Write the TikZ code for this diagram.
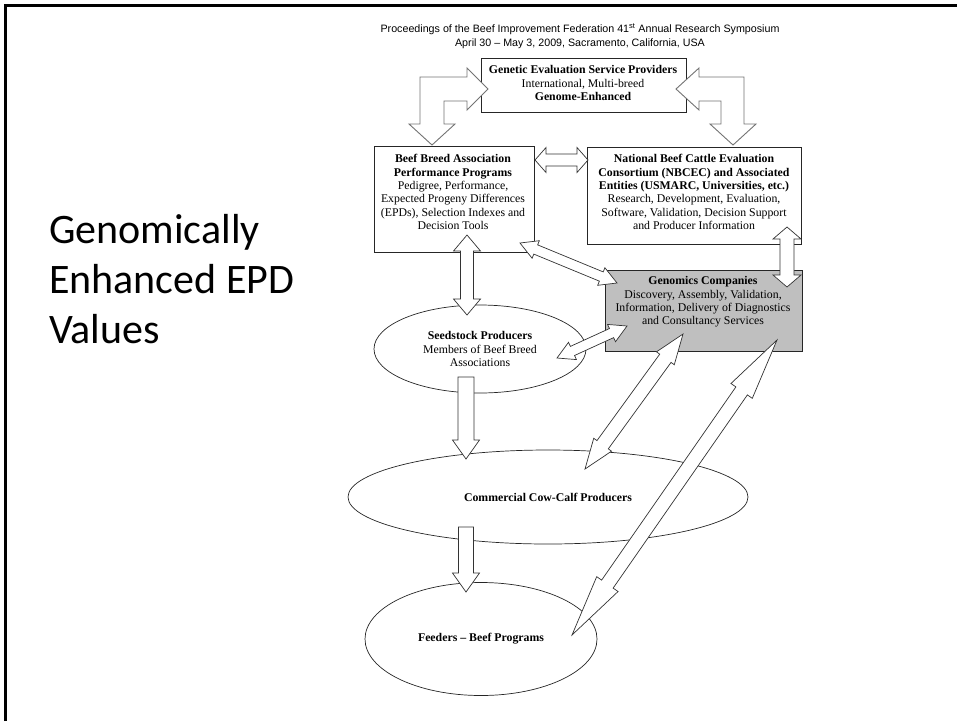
\documentclass[tikz,border=0pt]{standalone}
\usepackage{fontspec}
\setmainfont{Liberation Serif}
\newfontfamily\headfont[Ligatures=TeX]{Liberation Sans}
\newfontfamily\slidefont{Carlito}
\usetikzlibrary{shapes.geometric,calc}

% block arrows: shaft half width, head half width, head length, from, to
\newcommand{\dblarrow}[5]{%
  \draw[blockarrow] (#4) -- ($(#4)!#3!(#5)!#2!90:(#5)$) -- ($(#4)!#3!(#5)!#1!90:(#5)$)
    -- ($(#5)!#3!(#4)!#1!-90:(#4)$) -- ($(#5)!#3!(#4)!#2!-90:(#4)$) -- (#5)
    -- ($(#5)!#3!(#4)!#2!90:(#4)$) -- ($(#5)!#3!(#4)!#1!90:(#4)$)
    -- ($(#4)!#3!(#5)!#1!-90:(#5)$) -- ($(#4)!#3!(#5)!#2!-90:(#5)$) -- cycle;}
\newcommand{\sglarrow}[5]{%
  \draw[blockarrow] ($(#4)!#1!90:(#5)$) -- ($(#5)!#3!(#4)!#1!-90:(#4)$)
    -- ($(#5)!#3!(#4)!#2!-90:(#4)$) -- (#5) -- ($(#5)!#3!(#4)!#2!90:(#4)$)
    -- ($(#5)!#3!(#4)!#1!90:(#4)$) -- ($(#4)!#1!-90:(#5)$) -- cycle;}

\tikzset{
  box/.style={draw=black!85, line width=0.9pt, anchor=north west, inner sep=0pt},
  boxtext/.style={align=center, font=\fontsize{11.8}{13.4}\selectfont, inner sep=0pt},
  oval/.style={draw=black!85, line width=0.7pt, ellipse, align=center, inner sep=0pt,
    font=\fontsize{11.8}{13.4}\selectfont},
  blockarrow/.style={draw=black!80, line width=0.7pt, fill=white, line join=miter},
  bentarrow/.style={draw=black!55, line width=0.9pt, fill=white, line join=miter}
}

\begin{document}
\begin{tikzpicture}[x=1pt,y=-1pt]
	\useasboundingbox (0,0) rectangle (957,721);
	\draw[line width=3pt] (5.5,721) -- (5.5,5.5) -- (957,5.5);

	\node[anchor=base west, align=left, inner sep=0pt, font=\slidefont\fontsize{42}{50}\selectfont] (title) at (49,343) {Genomically\\Enhanced EPD\\Values};
	\node[align=center, inner sep=0pt, font=\headfont\fontsize{10.7}{14.5}\selectfont] (head) at (580,36) {Proceedings of the Beef Improvement Federation 41\textsuperscript{st} Annual Research Symposium\\April 30 – May 3, 2009, Sacramento, California, USA};

	% boxes
	\node[box, minimum width=205pt, minimum height=54pt] (gesp) at (481,58) {};
	\node[box, minimum width=160pt, minimum height=106pt] (bba) at (374,146) {};
	\node[box, minimum width=214pt, minimum height=97pt] (nbcec) at (587,147) {};
	\node[box, fill=gray!50, minimum width=197pt, minimum height=81pt] (genco) at (605,270) {};

	% ellipses
	\node[oval, minimum width=212pt, minimum height=88pt] (seed) at (480,349) {\textbf{Seedstock Producers}\\Members of Beef Breed\\Associations};
	\node[oval, minimum width=400pt, minimum height=94pt] (comm) at (548,497) {\textbf{Commercial Cow-Calf Producers}};
	\node[oval, minimum width=232pt, minimum height=113pt] (feed) at (481,639) {\textbf{Feeders – Beef Programs}};

	% bent arrows from the providers box
	\draw[bentarrow] (488,89) -- (467,68) -- (467,77) -- (420,77) -- (420,124) -- (409,124) -- (432,145) -- (455,124) -- (444,124) -- (444,101) -- (467,101) -- (467,110) -- cycle;
	\draw[bentarrow] (676,89) -- (699,68) -- (699,77) -- (744,77) -- (744,124) -- (756,124) -- (733,145) -- (710,124) -- (721,124) -- (721,101) -- (699,101) -- (699,110) -- cycle;

	% arrow ends
	\coordinate (bba-e) at (535,160);
	\coordinate (nbcec-w) at (588,160);
	\coordinate (bba-s) at (467,235);
	\coordinate (seed-n) at (467,315);
	\coordinate (bba-se) at (520,243);
	\coordinate (genco-nw) at (617,283);
	\coordinate (nbcec-s) at (787,227);
	\coordinate (genco-ne) at (787,287);
	\coordinate (seed-e) at (557,358);
	\coordinate (genco-w) at (627,326);
	\coordinate (seed-s) at (466,377);
	\coordinate (comm-n) at (466,459);
	\coordinate (comm-ne) at (585,469);
	\coordinate (genco-s) at (683,334);
	\coordinate (comm-s) at (466,527);
	\coordinate (feed-n) at (466,592);
	\coordinate (feed-e) at (572,635);
	\coordinate (genco-se) at (777,340);

	\dblarrow{6pt}{12.5pt}{11pt}{bba-e}{nbcec-w}
	\dblarrow{6.5pt}{13.5pt}{16pt}{bba-s}{seed-n}
	\dblarrow{5pt}{9.5pt}{17pt}{bba-se}{genco-nw}
	\dblarrow{7pt}{14pt}{12pt}{nbcec-s}{genco-ne}
	\dblarrow{5pt}{9.5pt}{17pt}{seed-e}{genco-w}
	\sglarrow{8pt}{13.5pt}{19pt}{seed-s}{comm-n}
	\dblarrow{7pt}{11pt}{30pt}{comm-ne}{genco-s}
	\sglarrow{7.5pt}{13.5pt}{19pt}{comm-s}{feed-n}
	\dblarrow{7pt}{13pt}{62pt}{feed-e}{genco-se}

	% box texts
	\node[boxtext] (gesp-t) at (583,83) {\textbf{Genetic Evaluation Service Providers}\\International, Multi-breed\\\textbf{Genome-Enhanced}};
	\node[boxtext] (bba-t) at (453,192) {\textbf{Beef Breed Association}\\\textbf{Performance Programs}\\Pedigree, Performance,\\Expected Progeny Differences\\(EPDs), Selection Indexes and\\Decision Tools};
	\node[boxtext] (nbcec-t) at (694,192) {\textbf{National Beef Cattle Evaluation}\\\textbf{Consortium (NBCEC) and Associated}\\\textbf{Entities (USMARC, Universities, etc.)}\\Research, Development, Evaluation,\\Software, Validation, Decision Support\\and Producer Information};
	\node[boxtext] (genco-t) at (703,302) {\textbf{Genomics Companies}\\Discovery, Assembly, Validation,\\Information, Delivery of Diagnostics\\and Consultancy Services};
\end{tikzpicture}
\end{document}
